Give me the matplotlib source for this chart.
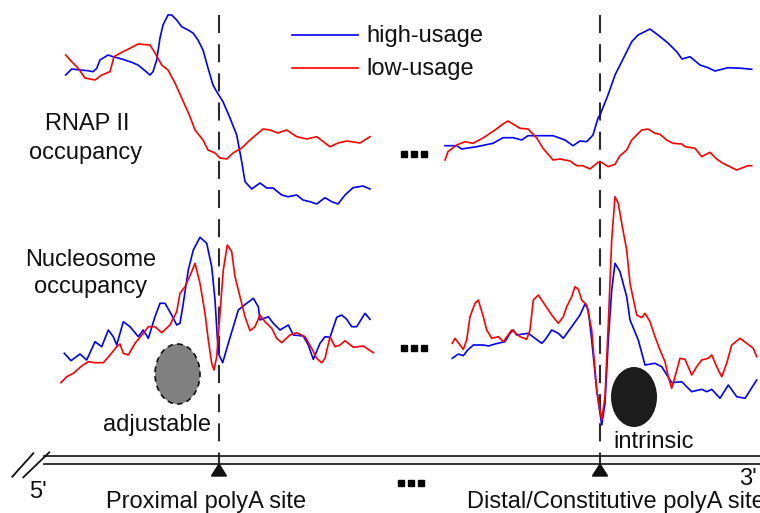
import matplotlib
matplotlib.use("Agg")
import matplotlib.pyplot as plt
from matplotlib.patches import Ellipse, Polygon, Rectangle

plt.rcParams['font.family'] = ['Liberation Sans', 'DejaVu Sans']
plt.rcParams['lines.scale_dashes'] = False

# ---------------- data (pixel-space schematic profiles) ----------------
rnap_prox_high_x = [65.7,71.7,80,88,93,96.7,100,108,113,121.7,131.7,138,145,150,153,156.7,160,163,168,171.7,176.7,181.7,188,193,198,203,208,213,216.7,223,230,236.7,241.7,245,251.7,260,266.7,273,281.7,288,296.7,303,310,316.7,325,331.7,338,345,353,363,370]
rnap_prox_high_y = [75,69,70,70.7,71.7,68.3,60,55,56.7,59,62.3,65,70.7,75,71.7,60,38,25,15,15,20,26.7,30,33,40,50,68,85,91.7,101.7,118,135,161.7,181.7,189,183,188,188,195,196.7,195,200,201.7,204,197.7,201.7,204,195,187.7,186,189]

rnap_prox_low_x = [65.7,71.7,78,85,95,101.7,110,114,121.7,130,138,150,155,161.7,168,175,181.7,190,195,203,208,215,220,226.7,233,241.7,250,263,270,278,286.7,296.7,306.7,316.7,330,338,346.7,360,370]
rnap_prox_low_y = [55,61.7,68,78,80,75,71.7,56.7,52.3,48.3,44,45,53,65,70,83,98,116.7,130,140,150,153,158,159,153,148,140,129,130,133,130,136.7,139,136.7,146.7,143,141,143,136.7]

rnap_dist_high_x = [445,456.7,461.7,476.7,493,503,513,521.7,528,540,553,565,573,580,586.7,593,598,600,608,615,621.7,631.7,638,650,658,668,676.7,682,690,700,708,715,728,741.7,751.7]
rnap_dist_high_y = [145.7,145.7,149,146.7,143.3,137.7,137.7,140,135.7,135.7,135.7,140,145.7,141,141.7,135,118,115,95,75,61.7,41.7,35,29,35,43,51.7,59,56.7,65,67.7,71,67.7,68.3,69.3]

rnap_dist_low_x = [445,448,456.7,465,473,483,495,503,508,520,528,536.7,543,553,560,570,576.7,583,590,598,601.7,608,615,620,626.7,631.7,641.7,648,655,660,666.7,673,681.7,685,695,701.7,710,716.7,723,736.7,748,751.7]
rnap_dist_low_y = [160,151.7,145,141.7,143.3,138,130,124,121,128.3,129,138,148.3,160,159,161,165.7,165.7,169,162.3,162.3,166.7,164.3,155.7,150,140,130,129,133.3,134.3,140,143.3,144,146.7,148.3,156.7,152.3,159,163.3,170,165.7,165.7]

nuc_prox_high_x = [64.3,71,80,86.7,95,101.7,108.3,113.3,116.7,123.3,130,138.3,143.3,148.3,155,160,165,171.7,176.7,180,183.3,188.3,193.3,200,206.7,211.7,215,218.3,222.7,228.3,233.3,238.3,246.7,253.3,258.3,260,268.3,273.3,280,288.3,293.3,303.3,308.3,313.3,320,325,330,336.7,341.7,346.7,351.7,356.7,365,370]
nuc_prox_high_y = [353.3,360.7,354,360,341.7,346.7,330,336.7,345,321.7,326.7,336.7,330,338.3,316.7,303.3,303.3,315,325,323.3,303.3,270,250,237.3,243.3,266.7,300,353.3,362.7,343.3,326.7,310,303.3,298.3,306.7,320,316.7,323.3,330,325,335,336,345,359.3,343.3,336.7,337.3,317.3,315,319.3,326.7,326.7,313.3,319.3]

nuc_prox_low_x = [61,66.7,73.3,81.7,88.3,95,103.3,110,116.7,120,123.3,128.3,135,143.3,148.3,155,161.7,170,176.7,180,185,191.7,195,200,205,208.3,211.7,214,216.7,220,223.3,227.3,231.7,235,240,245,250,255,260,265,271.7,276.7,281.7,290,296.7,305,311.7,316.7,321.7,325,330,335,340,345,353.3,363.3,373.3]
nuc_prox_low_y = [382.7,376.7,373.3,366,361.7,362.7,362.7,355,346.7,344,353.3,355,343.3,333.3,326.7,326.7,332.7,325,311.7,293.3,286.7,271.7,263.3,283.3,313.3,340,363.3,370,356.7,313.3,270,245,251.7,276.7,296.7,316.7,330.7,326.7,315,321.7,328.3,338.3,342.7,335,332.7,336.7,348.3,358.3,362.7,358.3,336.7,346.7,345,340.7,347.3,346,352.7]

nuc_dist_high_x = [452.3,458.3,463.3,467.7,473.3,483.3,488.3,495,505,510,513.3,516.7,528.3,535,541.7,545,551.7,558.3,563.3,571.7,580,585,588.3,591.7,596.7,601.7,605,608.3,611.7,615,620,626.7,630,638.3,645,655,661.7,671.7,681.7,691.7,701.7,706.7,711.7,720,728.3,736.7,745,756.7]
nuc_dist_high_y = [358.3,354,355.7,350,345,345,346,344,341.7,333.3,330,335,333.3,338.3,343.3,340,330,333.3,338.3,326.7,315,304,310,340,390,425,403.3,340,290,263.3,271.7,296.7,320,340,365,363.3,366.7,382.7,381.7,391.7,389.3,391.7,389.3,398.3,385,396.7,398.3,380]

nuc_dist_low_x = [452.3,455,460,463.3,466.7,470,475,478.3,483.3,486.7,491.7,498.3,503.3,511.7,520,526.7,530,533.3,538.3,545,551.7,558.3,563.3,566.7,571.7,575,578.3,581.7,586.7,591.7,596.7,601.7,605,608.3,611.7,615,618.3,621.7,626.7,630,636.7,641.7,645,650,655,660,665,668.3,671.7,675,680,685,691.7,696.7,701.7,708.3,711.7,716.7,721.7,726.7,731.7,740,746.7,753.3,756.7]
nuc_dist_low_y = [343.3,338.3,345,349.3,340,316.7,303.3,300,316.7,330,338.3,336.7,341.7,330,336.7,339.3,330,300,295,305,315,323.3,316.7,306.7,296.7,286.7,289.3,300,305,330,390,420,396.7,323.3,240,196.7,203.3,223.3,250,283.3,315,317.7,313.3,321.7,336.7,350,361.7,376.7,388.3,376.7,358.3,359.3,375,366.7,360,358.3,355,366.7,376.7,363.3,345,338.3,343.3,348.3,356.7]

series_labels = ["high-usage", "low-usage"]
series_colors = ["#0000ff", "#ff0000"]
site_labels = ["Proximal polyA site", "Distal/Constitutive polyA site"]
site_x = [219, 600]

# ---------------- figure ----------------
fig = plt.figure(figsize=(7.6, 5.13), dpi=100)
ax = fig.add_axes([0, 0, 1, 1])
ax.set_xlim(0, 760)
ax.set_ylim(513, 0)
ax.axis('off')

LW = 1.2
blue, red = series_colors
for xs, ys, c in [(rnap_prox_high_x, rnap_prox_high_y, blue),
                  (rnap_prox_low_x, rnap_prox_low_y, red),
                  (rnap_dist_high_x, rnap_dist_high_y, blue),
                  (rnap_dist_low_x, rnap_dist_low_y, red),
                  (nuc_prox_high_x, nuc_prox_high_y, blue),
                  (nuc_prox_low_x, nuc_prox_low_y, red),
                  (nuc_dist_high_x, nuc_dist_high_y, blue),
                  (nuc_dist_low_x, nuc_dist_low_y, red)]:
    ax.plot(xs, ys, color=c, lw=LW, solid_joinstyle='round', zorder=3)

# dashed site lines
for sx in site_x:
    ax.plot([sx, sx], [15, 455], color='#2a2a2a', lw=1.5, dashes=(13, 8), zorder=2)
    ax.plot([sx, sx], [455, 466], color='#2a2a2a', lw=1.5, zorder=2)
    ax.add_patch(Polygon([[sx, 464], [sx - 7.5, 476], [sx + 7.5, 476]],
                         closed=True, color='#111111', zorder=4))

# gene track
ax.add_patch(Rectangle((44, 455.5), 760 - 44, 8.5, facecolor='#f4f4f4',
                       edgecolor='none', zorder=1))
ax.plot([44, 760], [455.5, 455.5], color='#222222', lw=1.3, zorder=2)
ax.plot([44, 760], [464, 464], color='#222222', lw=1.3, zorder=2)
ax.plot([12.3, 33.3], [476.7, 453.3], color='#111111', lw=1.3)
ax.plot([23.3, 49.3], [477.3, 452.3], color='#111111', lw=1.3)

# nucleosome ellipses
ax.add_patch(Ellipse((177.5, 374), 45, 60, facecolor='#808080', edgecolor='#111111',
                     lw=1.2, linestyle=(0, (4, 3)), zorder=4))
ax.add_patch(Ellipse((634, 397), 46, 60, facecolor='#1c1c1c', edgecolor='none', zorder=4))

# legend
ax.plot([292, 358], [35, 35], color=blue, lw=LW)
ax.plot([292, 358], [68, 68], color=red, lw=LW)
FS = 17
ax.text(366, 36, series_labels[0], fontsize=FS, va='center', ha='left', color='#111111')
ax.text(366, 69, series_labels[1], fontsize=FS, va='center', ha='left', color='#111111')

# labels
ax.text(87, 124, "RNAP II", fontsize=FS, ha='center', va='center', color='#111111')
ax.text(86, 153, "occupancy", fontsize=FS, ha='center', va='center', color='#111111')
ax.text(91, 260, "Nucleosome", fontsize=FS, ha='center', va='center', color='#111111')
ax.text(91, 287, "occupancy", fontsize=FS, ha='center', va='center', color='#111111')
ax.text(157, 425, "adjustable", fontsize=FS, ha='center', va='center', color='#111111')
ax.text(654, 442, "intrinsic", fontsize=FS, ha='center', va='center', color='#111111')
ax.text(38, 492, "5'", fontsize=FS, ha='center', va='center', color='#111111')
ax.text(748, 479, "3'", fontsize=FS, ha='center', va='center', color='#111111')
ax.text(206, 502, site_labels[0], fontsize=FS, ha='center', va='center', color='#111111')
ax.text(467, 502, site_labels[1], fontsize=FS, ha='left', va='center', color='#111111')

# ellipsis markers
for (dx, dy) in [(414, 154), (414, 348), (411, 483)]:
    ax.plot([dx - 10, dx, dx + 10], [dy, dy, dy], linestyle='none', marker='s',
            markersize=5, color='#000000')

fig.savefig("out.png", dpi=100)
